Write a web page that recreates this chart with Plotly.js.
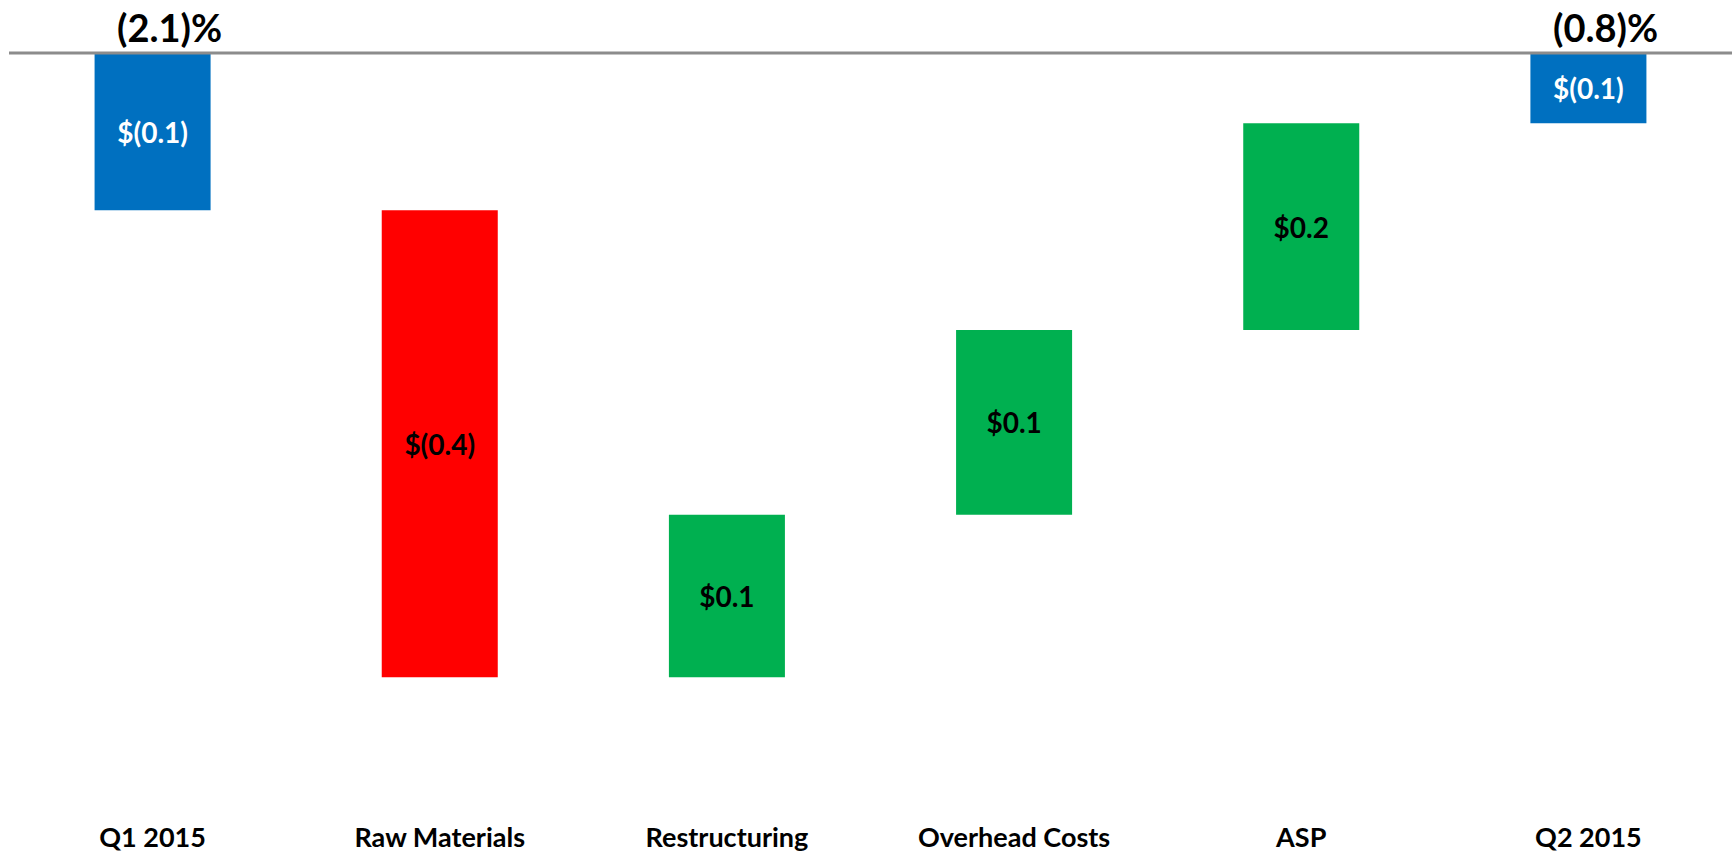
<!DOCTYPE html>
<html>
<head>
<meta charset="utf-8">
<script src="https://cdn.plot.ly/plotly-3.0.1.min.js"></script>
<style>
  html, body { margin: 0; padding: 0; background: #ffffff; }
  #chart { width: 1732px; height: 859px; }
</style>
</head>
<body>
<div id="chart"></div>
<script>
// Categories and values ($M)
const categories = ["Q1 2015", "Raw Materials", "Restructuring", "Overhead Costs", "ASP", "Q2 2015"];
const measures   = ["absolute", "relative", "relative", "relative", "relative", "total"];
const deltas     = [-0.121, -0.359, 0.125, 0.142, 0.159, null];
const barLabels  = ["$(0.1)", "$(0.4)", "$0.1", "$0.1", "$0.2", "$(0.1)"];
const pctLabels  = ["(2.1)%", "", "", "", "", "(0.8)%"];

const COLOR_TOTAL = "#0070C0";
const COLOR_UP = "#00B050";
const COLOR_DOWN = "#FF0000";

// Build floating bars (base + height) from the running total
const bases = [], heights = [], colors = [], textColors = [];
let running = 0;
for (let i = 0; i < categories.length; i++) {
  if (measures[i] === "absolute") {
    running = deltas[i];
    bases.push(0); heights.push(running);
    colors.push(COLOR_TOTAL); textColors.push("#ffffff");
  } else if (measures[i] === "total") {
    bases.push(0); heights.push(running);
    colors.push(COLOR_TOTAL); textColors.push("#ffffff");
  } else {
    bases.push(running); heights.push(deltas[i]);
    running += deltas[i];
    colors.push(deltas[i] >= 0 ? COLOR_UP : COLOR_DOWN);
    textColors.push("#000000");
  }
}

const FONT = "Lato, 'Open Sans', sans-serif";

const trace = {
  type: "bar",
  x: categories,
  y: heights,
  base: bases,
  marker: { color: colors, line: { width: 0 } },
  text: barLabels.map(t => "<b>" + t + "</b>"),
  textposition: "inside",
  insidetextanchor: "middle",
  textangle: 0,
  textfont: { family: FONT, size: 28, color: textColors },
  hoverinfo: "x+y",
  cliponaxis: false
};

const annotations = [];
categories.forEach((c, i) => {
  if (pctLabels[i]) {
    annotations.push({
      x: c, y: 0, xref: "x", yref: "y",
      text: "<b>" + pctLabels[i] + "</b>",
      showarrow: false,
      xanchor: "center", yanchor: "bottom",
      xshift: 17, yshift: 1,
      font: { family: FONT, size: 38, color: "#000000" }
    });
  }
});

const layout = {
  width: 1732,
  height: 859,
  margin: { l: 9, r: 0, t: 45, b: 40 },
  paper_bgcolor: "#ffffff",
  plot_bgcolor: "#ffffff",
  showlegend: false,
  bargap: 0.596,
  xaxis: {
    type: "category",
    showgrid: false,
    zeroline: false,
    showline: false,
    ticks: "",
    tickfont: { family: FONT, size: 27, color: "#000000", weight: 700 },
    fixedrange: true
  },
  yaxis: {
    range: [-0.589, 0.00615],
    showgrid: false,
    zeroline: false,
    showline: false,
    showticklabels: false,
    ticks: "",
    fixedrange: true
  },
  shapes: [{
    type: "line", xref: "paper", yref: "y",
    x0: 0, x1: 1, y0: 0, y1: 0,
    line: { color: "#8C8C8C", width: 3 },
    layer: "above"
  }],
  annotations: annotations
};

Plotly.newPlot("chart", [trace], layout, { displayModeBar: false, staticPlot: true });
</script>
</body>
</html>
